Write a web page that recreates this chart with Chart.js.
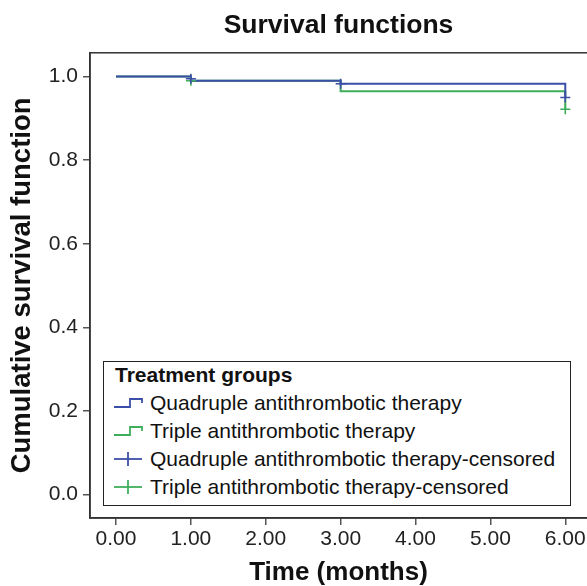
<!DOCTYPE html>
<html>
<head>
<meta charset="utf-8">
<script src="https://cdn.jsdelivr.net/npm/chart.js@4.4.1/dist/chart.umd.min.js"></script>
<style>
  html, body { margin: 0; padding: 0; background: #fff; }
  #wrap { position: relative; width: 587px; height: 586px; overflow: hidden; font-family: 'Liberation Sans', Arial, sans-serif; }
  #legend {
    position: absolute; left: 103px; top: 361px; width: 468px; height: 145px;
    border: 1.5px solid #222; box-sizing: border-box; background: #fff; color: #111;
  }
  #legend .ttl { position: absolute; left: 11px; top: 1px; font-weight: bold; font-size: 21px; line-height: 24px; }
  #legend .row { position: absolute; left: 9px; font-size: 21px; line-height: 24px; display: flex; align-items: center; white-space: nowrap; }
  #legend svg { margin-right: 7px; }
</style>
</head>
<body>
<div id="wrap">
  <canvas id="chart" width="587" height="586"></canvas>
  <div id="legend"></div>
</div>
<script>
const xTicks = [0, 1, 2, 3, 4, 5, 6]
const yTicks = [0, 0.2, 0.4, 0.6, 0.8, 1.0]

// survival curves (time in months, cumulative survival)
const quadTime = [0, 1, 3, 6]
const quadSurv = [1.0, 0.99, 0.983, 0.95]
const tripleTime = [0, 1, 3, 6]
const tripleSurv = [1.0, 0.99, 0.965, 0.922]

// censored marks
const quadCensTime = [1, 3, 6]
const quadCensSurv = [0.995, 0.983, 0.95]
const tripleCensTime = [1, 6]
const tripleCensSurv = [0.99, 0.922]

const groupLabels = [
  'Quadruple antithrombotic therapy',
  'Triple antithrombotic therapy',
  'Quadruple antithrombotic therapy-censored',
  'Triple antithrombotic therapy-censored',
]

const BLUE = '#3b4fa8'
const GREEN = '#3fae5c'
const FONT = "'Liberation Sans', Arial, sans-serif"

const toPoints = (xs, ys) => xs.map((x, i) => ({ x, y: ys[i] }))

const frame = {
  id: 'frame',
  afterDraw(chart) {
    const { ctx, chartArea: a } = chart
    ctx.save()
    ctx.strokeStyle = '#333'
    ctx.lineWidth = 1.5
    ctx.strokeRect(a.left, a.top, a.right - a.left + 4, a.bottom - a.top)
    ctx.restore()
  }
}

new Chart(document.getElementById('chart'), {
  type: 'line',
  data: {
    datasets: [
      { label: groupLabels[2], data: toPoints(quadCensTime, quadCensSurv), showLine: false,
        pointStyle: 'cross', pointRadius: 5, pointBorderWidth: 1.6, borderColor: BLUE, pointHoverRadius: 5 },
      { label: groupLabels[3], data: toPoints(tripleCensTime, tripleCensSurv), showLine: false,
        pointStyle: 'cross', pointRadius: 5, pointBorderWidth: 1.6, borderColor: GREEN, pointHoverRadius: 5 },
      { label: groupLabels[0], data: toPoints(quadTime, quadSurv), stepped: 'before',
        borderColor: BLUE, borderWidth: 2, pointRadius: 0, fill: false },
      { label: groupLabels[1], data: toPoints(tripleTime, tripleSurv), stepped: 'before',
        borderColor: GREEN, borderWidth: 2, pointRadius: 0, fill: false },
    ]
  },
  options: {
    responsive: false,
    animation: false,
    layout: { padding: 0, autoPadding: false },
    plugins: {
      legend: { display: false },
      tooltip: { enabled: false },
      title: {
        display: true,
        fullSize: false,
        text: 'Survival functions',
        color: '#111',
        font: { family: FONT, size: 26.5, weight: 'bold' },
        padding: { top: 10, bottom: 11 },
      },
    },
    scales: {
      x: {
        type: 'linear',
        min: -0.347,
        max: 6.29,
        afterFit: (s) => { s.height = 68; s.paddingLeft = 0; s.paddingRight = 0 },
        afterBuildTicks: (s) => { s.ticks = xTicks.map(v => ({ value: v })) },
        grid: { drawOnChartArea: false, drawTicks: true, tickLength: 7, color: '#555', lineWidth: 1.5 },
        border: { display: true, color: '#333', width: 1.5 },
        ticks: { color: '#222', font: { family: FONT, size: 21 }, padding: 2, maxRotation: 0,
          callback: (v) => Number(v).toFixed(2) },
        title: { display: true, text: 'Time (months)', color: '#111',
          font: { family: FONT, size: 26, weight: 'bold', lineHeight: 1 }, padding: { top: 0, bottom: 0 } },
      },
      y: {
        type: 'linear',
        min: -0.056,
        max: 1.057,
        afterFit: (s) => { s.width = 90 },
        afterBuildTicks: (s) => { s.ticks = yTicks.map(v => ({ value: v })) },
        grid: { drawOnChartArea: false, drawTicks: true, tickLength: 7, color: '#555', lineWidth: 1.5 },
        border: { display: true, color: '#333', width: 1.5 },
        ticks: { color: '#222', font: { family: FONT, size: 21 }, padding: 5,
          callback: (v) => Number(v).toFixed(1) },
        title: { display: true, text: 'Cumulative survival function', color: '#111',
          font: { family: FONT, size: 27.5, weight: 'bold' }, padding: { top: 6, bottom: 0 } },
      },
    },
  },
  plugins: [frame],
})

// legend box inside plot area
const stepIcon = (c) => `<svg width="30" height="14"><polyline points="1,11 17,11 17,3 29,3 29,7" fill="none" stroke="${c}" stroke-width="1.8"/></svg>`
const crossIcon = (c) => `<svg width="30" height="16"><line x1="1" y1="8" x2="29" y2="8" stroke="${c}" stroke-width="1.8"/><line x1="15" y1="1" x2="15" y2="15" stroke="${c}" stroke-width="1.8"/></svg>`
const icons = [stepIcon(BLUE), stepIcon(GREEN), crossIcon(BLUE), crossIcon(GREEN)]
const rowTops = [29, 57, 85, 113]

document.getElementById('legend').innerHTML = `<div class="ttl">Treatment groups</div>` +
  groupLabels.map((l, i) => `<div class="row" style="top:${rowTops[i]}px">${icons[i]}<span>${l}</span></div>`).join('')
</script>
</body>
</html>
